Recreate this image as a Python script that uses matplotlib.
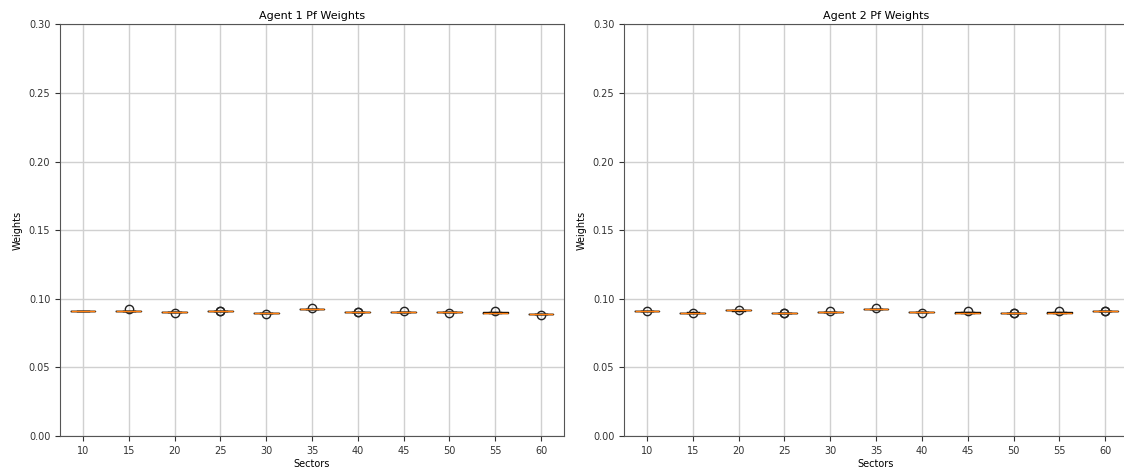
import matplotlib
matplotlib.use("Agg")
import matplotlib.pyplot as plt

sectors = [10, 15, 20, 25, 30, 35, 40, 45, 50, 55, 60]

# weight samples per sector (tight spread, a few outliers)
agent1 = [
    [0.0909, 0.0910, 0.0910, 0.0911, 0.0910, 0.0911],
    [0.0909, 0.0910, 0.0910, 0.0911, 0.0910, 0.0928],
    [0.0904, 0.0905, 0.0905, 0.0906, 0.0905, 0.0897],
    [0.0909, 0.0910, 0.0910, 0.0911, 0.0910, 0.0910],
    [0.0894, 0.0895, 0.0895, 0.0896, 0.0895, 0.0887],
    [0.0927, 0.0928, 0.0928, 0.0929, 0.0928, 0.0933],
    [0.0904, 0.0905, 0.0905, 0.0906, 0.0905, 0.0905],
    [0.0904, 0.0905, 0.0905, 0.0906, 0.0905, 0.0912],
    [0.0902, 0.0903, 0.0903, 0.0904, 0.0903, 0.0897],
    [0.0899, 0.0900, 0.0900, 0.0901, 0.0900, 0.0914],
    [0.0889, 0.0890, 0.0890, 0.0891, 0.0890, 0.0884],
]
agent2 = [
    [0.0909, 0.0910, 0.0910, 0.0911, 0.0910, 0.0914],
    [0.0899, 0.0900, 0.0900, 0.0901, 0.0900, 0.0896],
    [0.0914, 0.0915, 0.0915, 0.0916, 0.0915, 0.0921],
    [0.0896, 0.0897, 0.0897, 0.0898, 0.0897, 0.0897],
    [0.0902, 0.0903, 0.0903, 0.0904, 0.0903, 0.0912],
    [0.0924, 0.0925, 0.0925, 0.0926, 0.0925, 0.0931],
    [0.0904, 0.0905, 0.0905, 0.0906, 0.0905, 0.0896],
    [0.0899, 0.0900, 0.0900, 0.0901, 0.0900, 0.0914],
    [0.0893, 0.0894, 0.0894, 0.0895, 0.0894, 0.0894],
    [0.0899, 0.0900, 0.0900, 0.0901, 0.0900, 0.0913],
    [0.0909, 0.0910, 0.0910, 0.0911, 0.0910, 0.0910],
]
titles = ["Agent 1 Pf Weights", "Agent 2 Pf Weights"]

fig = plt.figure(figsize=(11.24, 4.75), dpi=100)
# right panel runs slightly past the figure edge, like the source
ax0 = fig.add_axes([0.0534, 0.082, 0.4484, 0.867])
ax1 = fig.add_axes([0.5552, 0.082, 0.4484, 0.867])

for ax, data, title in zip([ax0, ax1], [agent1, agent2], titles):
    ax.boxplot(data, positions=sectors, widths=2.7,
               flierprops=dict(marker="o", markersize=6, markerfacecolor="none",
                               markeredgecolor="#222222", markeredgewidth=1.0))
    ax.set_xlim(7.5, 62.5)
    ax.set_ylim(0, 0.30)
    ax.set_xticks(sectors)
    ax.set_xticklabels([str(s) for s in sectors])
    ax.set_yticks([0.0, 0.05, 0.10, 0.15, 0.20, 0.25, 0.30])
    ax.set_yticklabels(["0.00", "0.05", "0.10", "0.15", "0.20", "0.25", "0.30"])
    ax.grid(True, color="#d0d0d0", linewidth=1.0)
    ax.set_axisbelow(True)
    ax.tick_params(labelsize=7, colors="#333333")
    for sp in ax.spines.values():
        sp.set_color("#555555")
    ax.set_title(title, fontsize=8, pad=4)
    ax.set_xlabel("Sectors", fontsize=7, labelpad=2)
    ax.set_ylabel("Weights", fontsize=7, labelpad=4)

plt.savefig("out.png", dpi=100)
